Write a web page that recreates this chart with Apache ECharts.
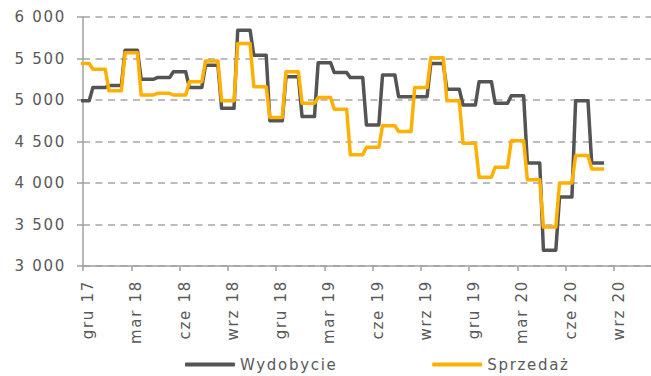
<!DOCTYPE html>
<html>
<head>
<meta charset="utf-8">
<script src="https://cdn.jsdelivr.net/npm/echarts@6/dist/echarts.min.js"></script>
<style>
  html, body { margin: 0; padding: 0; background: #ffffff; }
  #chart { width: 651px; height: 376px; }
  #chart text { letter-spacing: 1.7px; }
</style>
</head>
<body>
<div id="chart"></div>
<script>
// Monthly values, Dec 2017 – Aug 2020
const months = ['gru 17','sty 18','lut 18','mar 18','kwi 18','maj 18','cze 18','lip 18','sie 18','wrz 18','paź 18','lis 18',
                'gru 18','sty 19','lut 19','mar 19','kwi 19','maj 19','cze 19','lip 19','sie 19','wrz 19','paź 19','lis 19',
                'gru 19','sty 20','lut 20','mar 20','kwi 20','maj 20','cze 20','lip 20','sie 20'];
const wydobycie = [4990, 5150, 5175, 5600, 5250, 5270, 5340, 5150, 5420, 4900, 5840, 5540,
                   4750, 5280, 4800, 5450, 5330, 5270, 4700, 5300, 5040, 5040, 5440, 5130,
                   4940, 5220, 4960, 5050, 4240, 3190, 3830, 4990, 4240];
const sprzedaz  = [5440, 5370, 5110, 5570, 5060, 5080, 5060, 5220, 5470, 4990, 5680, 5160,
                   4790, 5340, 4960, 5030, 4890, 4340, 4430, 4690, 4620, 5150, 5510, 4990,
                   4480, 4070, 4190, 4510, 4040, 3470, 4000, 4330, 4170];
// Quarterly axis labels (one every 3 months, starting at gru 17)
const tickLabels = ['gru 17','mar 18','cze 18','wrz 18','gru 18','mar 19','cze 19','wrz 19','gru 19','mar 20','cze 20','wrz 20'];
const tickPositions = tickLabels.map((_, k) => k * 3);

// Each monthly value is held across most of its month, with a short ramp to the next one
const HOLD = 0.385;
function monthlyPlateaus(values) {
  const pts = [];
  values.forEach((v, i) => { pts.push([i - HOLD, v]); pts.push([i + HOLD, v]); });
  return pts;
}

const FONT = 'DejaVu Sans';
const TEXT = '#595959';
const AXIS = '#a0a0a0';

const chart = echarts.init(document.getElementById('chart'), null, { renderer: 'svg' });
chart.setOption({
  animation: false,
  textStyle: { fontFamily: FONT },
  grid: { left: 83, top: 17, right: 0, bottom: 110, containLabel: false },
  legend: {
    left: 180, top: 352,
    itemWidth: 50, itemHeight: 4, itemGap: 110,
    icon: 'roundRect',
    textStyle: { color: TEXT, fontSize: 15, fontFamily: FONT },
    data: ['Wydobycie', 'Sprzedaż']
  },
  xAxis: {
    type: 'value', min: 0, max: 35.3, interval: 3,
    axisLine: { show: true, lineStyle: { color: AXIS, width: 1.5 } },
    axisTick: { show: true, length: 5, customValues: tickPositions, lineStyle: { color: AXIS, width: 1.5 } },
    splitLine: { show: false },
    axisLabel: {
      rotate: 90, margin: 14, color: TEXT, fontSize: 15, fontFamily: FONT,
      verticalAlign: 'top', lineHeight: 10,
      customValues: tickPositions,
      formatter: v => tickLabels[Math.round(v / 3)] || ''
    }
  },
  yAxis: {
    type: 'value', min: 3000, max: 6000, interval: 500,
    axisLine: { show: true, lineStyle: { color: AXIS, width: 1.5 } },
    axisTick: { show: true, length: 6, lineStyle: { color: AXIS, width: 1.5 } },
    splitLine: { show: true, lineStyle: { color: '#a6a6a6', width: 1.5, type: [7, 5.5] } },
    axisLabel: {
      margin: 17, color: TEXT, fontSize: 15, fontFamily: FONT,
      formatter: v => String(v).replace(/\B(?=(\d{3})+(?!\d))/g, ' ')
    }
  },
  series: [
    {
      name: 'Wydobycie', type: 'line', data: monthlyPlateaus(wydobycie),
      showSymbol: false, symbol: 'none', clip: true,
      lineStyle: { color: '#545454', width: 3.5, join: 'round' },
      itemStyle: { color: '#545454' }
    },
    {
      name: 'Sprzedaż', type: 'line', data: monthlyPlateaus(sprzedaz),
      showSymbol: false, symbol: 'none', clip: true,
      lineStyle: { color: '#FFB000', width: 3.5, join: 'round' },
      itemStyle: { color: '#FFB000' }
    }
  ]
});
</script>
</body>
</html>
